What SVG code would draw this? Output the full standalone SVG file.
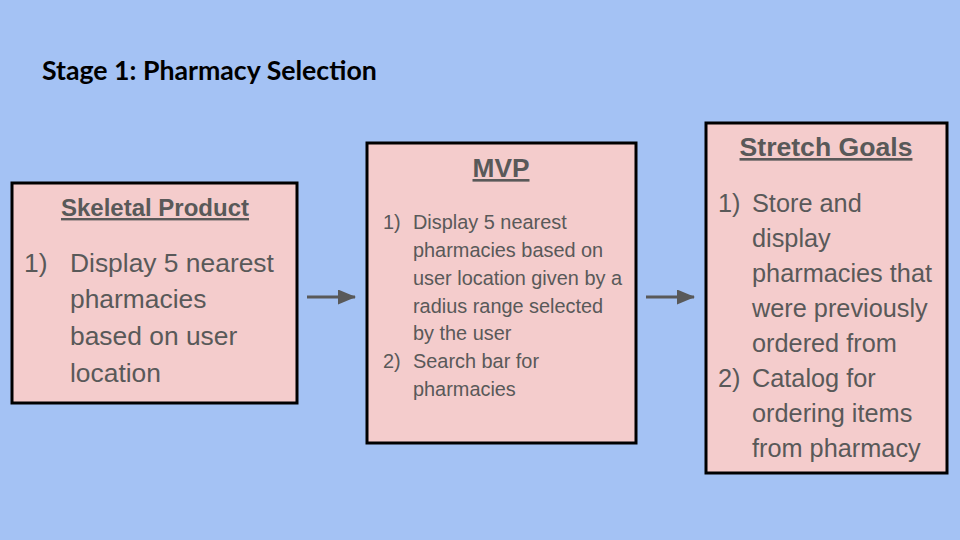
<svg xmlns="http://www.w3.org/2000/svg" width="960" height="540" viewBox="0 0 960 540">
<defs>
<style>
.box{fill:#f4cccc;stroke:#000;stroke-width:3}
.t{font-family:"Liberation Sans",Arial,sans-serif;fill:#595959}
.h{font-weight:bold;text-decoration:underline;text-anchor:middle}
.conn{stroke:#595959;stroke-width:3;fill:none}
</style>
<marker id="ah" viewBox="0 0 18 15" refX="17" refY="7.5" markerWidth="18" markerHeight="15" orient="auto" markerUnits="userSpaceOnUse">
<path d="M0,0 L18,7.5 L0,15 z" fill="#595959"/>
</marker>
</defs>
<rect width="960" height="540" fill="#a4c2f4"/>
<text x="42" y="80" font-family="Lato,sans-serif" font-weight="bold" font-size="26.7" fill="#000">Stage 1: Pharmacy Selection</text>
<g id="skeletal">
<rect class="box" x="12" y="183" width="285" height="220"/>
<text class="t h" x="155" y="216" font-size="24">Skeletal Product</text>
<g class="t" font-size="26.4">
<text x="24" y="272">1)</text>
<text x="70" y="272">Display 5 nearest</text>
<text x="70" y="308">pharmacies</text>
<text x="70" y="345">based on user</text>
<text x="70" y="382">location</text>
</g>
</g>
<g id="mvp">
<rect class="box" x="367" y="143" width="269" height="300"/>
<text class="t h" x="501" y="177" font-size="26.3">MVP</text>
<g class="t" font-size="19.9">
<text x="383" y="229">1)</text>
<text x="413" y="229">Display 5 nearest</text>
<text x="413" y="257">pharmacies based on</text>
<text x="413" y="285">user location given by a</text>
<text x="413" y="313">radius range selected</text>
<text x="413" y="340">by the user</text>
<text x="383" y="368">2)</text>
<text x="413" y="368">Search bar for</text>
<text x="413" y="396">pharmacies</text>
</g>
</g>
<g id="stretch">
<rect class="box" x="706" y="123" width="241" height="350"/>
<text class="t h" x="826" y="156" font-size="26.6">Stretch Goals</text>
<g class="t" font-size="25.3">
<text x="718" y="212">1)</text>
<text x="752" y="212">Store and</text>
<text x="752" y="247">display</text>
<text x="752" y="282">pharmacies that</text>
<text x="752" y="317">were previously</text>
<text x="752" y="352">ordered from</text>
<text x="718" y="387">2)</text>
<text x="752" y="387">Catalog for</text>
<text x="752" y="422">ordering items</text>
<text x="752" y="457">from pharmacy</text>
</g>
</g>
<g id="connectors">
<line class="conn" x1="307" y1="297" x2="355" y2="297" marker-end="url(#ah)"/>
<line class="conn" x1="646" y1="297" x2="694" y2="297" marker-end="url(#ah)"/>
</g>
</svg>
